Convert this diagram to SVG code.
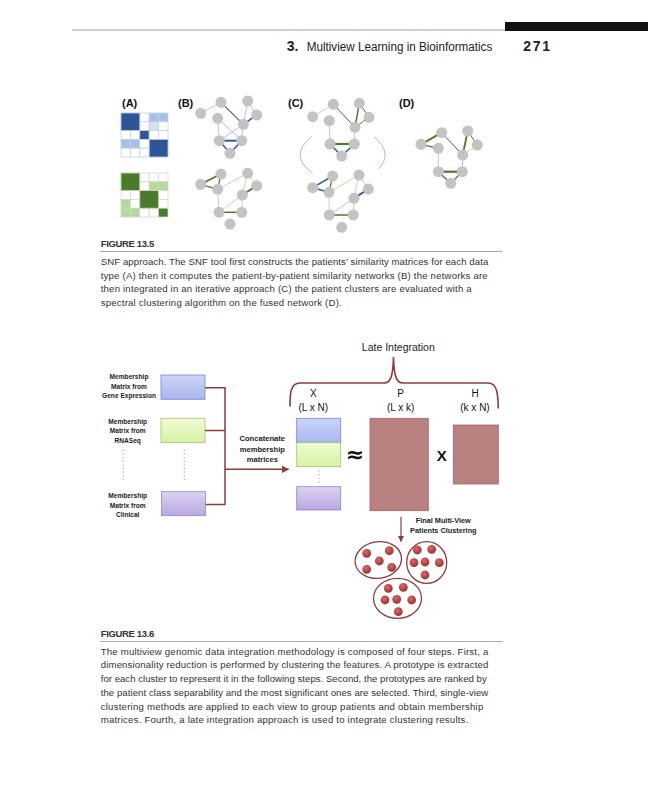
<svg xmlns="http://www.w3.org/2000/svg" width="648" height="800" viewBox="0 0 648 800">
<style>
.hd{font-family:"Liberation Sans",Arial,sans-serif;font-size:14px;fill:#222}
.hm{font-family:"Liberation Sans",Arial,sans-serif;font-size:12px;fill:#222}
.cap{font-family:"Liberation Sans",Arial,sans-serif;font-size:9.6px;fill:#333}
.fig{font-family:"Liberation Sans",Arial,sans-serif;font-size:9.5px;font-weight:bold;fill:#333}
.lab{font-family:"Liberation Sans",Arial,sans-serif;font-size:11px;font-weight:bold;fill:#111}
.sm{font-family:"Liberation Sans",Arial,sans-serif;font-size:6.6px;font-weight:bold;fill:#222;text-anchor:middle}
.md{font-family:"Liberation Sans",Arial,sans-serif;font-size:7.6px;font-weight:bold;fill:#222;text-anchor:middle}
.mx{font-family:"Liberation Sans",Arial,sans-serif;font-size:10px;fill:#111;text-anchor:middle}
.nd{fill:#c3c3c3}
.cb{stroke:#c6d1e2;stroke-width:0.8}
.cg{stroke:#cfdcc4;stroke-width:0.8}
.bt{stroke:#9bb6dc;stroke-width:0.8;fill:none}
.bd{stroke:#2f5e9e;fill:none}
.gt{stroke:#b9cf98;stroke-width:0.8;fill:none}
.gd{stroke:#4f7a28;fill:none}
.rl{stroke:#8e3b3b;fill:none}
.dot{stroke:#999;stroke-width:1.2;stroke-dasharray:1 2.6;fill:none}
.pt{fill:url(#rd)}
.el{fill:none;stroke:#8e3b3b;stroke-width:1.3}
.big{fill:#b98180;stroke:#9e6463;stroke-width:0.8}
</style>
<defs>
<linearGradient id="gb" x1="0" y1="0" x2="0" y2="1"><stop offset="0" stop-color="#ccd4f8"/><stop offset="1" stop-color="#a9b7ee"/></linearGradient>
<linearGradient id="gg" x1="0" y1="0" x2="0" y2="1"><stop offset="0" stop-color="#f0fcd6"/><stop offset="1" stop-color="#d5f0a2"/></linearGradient>
<linearGradient id="gp" x1="0" y1="0" x2="0" y2="1"><stop offset="0" stop-color="#dcd2f3"/><stop offset="1" stop-color="#b8a7e0"/></linearGradient>
<radialGradient id="rd" cx="0.4" cy="0.35" r="0.7"><stop offset="0" stop-color="#d86a6a"/><stop offset="1" stop-color="#982c2c"/></radialGradient>
<marker id="ar" viewBox="0 0 10 10" refX="9" refY="5" markerWidth="5" markerHeight="5" orient="auto"><path d="M0,0 L10,5 L0,10 z" fill="#8e3b3b"/></marker>
</defs>
<rect width="648" height="800" fill="#fff"/>

<g id="header">
<line x1="72" y1="30" x2="505" y2="30" stroke="#888" stroke-width="0.8"/>
<rect x="505" y="22" width="143" height="9" fill="#111"/>
<text class="hd" x="286.7" y="51" font-weight="bold">3.</text>
<text class="hm" x="306.7" y="51" textLength="185.6" lengthAdjust="spacingAndGlyphs">Multiview Learning in Bioinformatics</text>
<text class="hd" x="523.3" y="51" font-weight="bold" textLength="26.7">271</text>
</g>

<g id="fig135-labels">
<text class="lab" x="122" y="107">(A)</text>
<text class="lab" x="178" y="107">(B)</text>
<text class="lab" x="288" y="107">(C)</text>
<text class="lab" x="399" y="107">(D)</text>
</g>

<g id="matrixA-blue">
<g fill="#fff" class="cb">
<rect x="121" y="113" width="9.4" height="8.8"/><rect x="130.4" y="113" width="9.4" height="8.8"/><rect x="139.8" y="113" width="9.4" height="8.8"/><rect x="149.2" y="113" width="9.4" height="8.8" fill="#a6c0e7"/><rect x="158.6" y="113" width="9.4" height="8.8" fill="#a6c0e7"/>
<rect x="121" y="121.8" width="9.4" height="8.8"/><rect x="130.4" y="121.8" width="9.4" height="8.8"/><rect x="139.8" y="121.8" width="9.4" height="8.8"/><rect x="149.2" y="121.8" width="9.4" height="8.8" fill="#d5e2f4"/><rect x="158.6" y="121.8" width="9.4" height="8.8"/>
<rect x="121" y="130.6" width="9.4" height="8.8"/><rect x="130.4" y="130.6" width="9.4" height="8.8"/><rect x="139.8" y="130.6" width="9.4" height="8.8" fill="#2e5597"/><rect x="149.2" y="130.6" width="9.4" height="8.8"/><rect x="158.6" y="130.6" width="9.4" height="8.8"/>
<rect x="121" y="139.4" width="9.4" height="8.8" fill="#a6c0e7"/><rect x="130.4" y="139.4" width="9.4" height="8.8" fill="#a6c0e7"/><rect x="139.8" y="139.4" width="9.4" height="8.8"/><rect x="149.2" y="139.4" width="9.4" height="8.8"/><rect x="158.6" y="139.4" width="9.4" height="8.8"/>
<rect x="121" y="148.2" width="9.4" height="8.8"/><rect x="130.4" y="148.2" width="9.4" height="8.8"/><rect x="139.8" y="148.2" width="9.4" height="8.8"/><rect x="149.2" y="148.2" width="9.4" height="8.8"/><rect x="158.6" y="148.2" width="9.4" height="8.8"/>
<rect x="121" y="113" width="18.8" height="17.6" fill="#2e5597"/>
<rect x="149.2" y="139.4" width="18.8" height="17.6" fill="#2e5597"/>
</g>
</g>

<g id="matrixA-green">
<g fill="#fff" class="cg">
<rect x="121" y="173" width="9.4" height="8.8"/><rect x="130.4" y="173" width="9.4" height="8.8"/><rect x="139.8" y="173" width="9.4" height="8.8"/><rect x="149.2" y="173" width="9.4" height="8.8"/><rect x="158.6" y="173" width="9.4" height="8.8"/>
<rect x="121" y="181.8" width="9.4" height="8.8"/><rect x="130.4" y="181.8" width="9.4" height="8.8"/><rect x="139.8" y="181.8" width="9.4" height="8.8"/><rect x="149.2" y="181.8" width="9.4" height="8.8" fill="#b5d89c"/><rect x="158.6" y="181.8" width="9.4" height="8.8" fill="#b5d89c"/>
<rect x="121" y="190.6" width="9.4" height="8.8"/><rect x="130.4" y="190.6" width="9.4" height="8.8"/><rect x="139.8" y="190.6" width="9.4" height="8.8"/><rect x="149.2" y="190.6" width="9.4" height="8.8"/><rect x="158.6" y="190.6" width="9.4" height="8.8"/>
<rect x="121" y="199.4" width="9.4" height="8.8" fill="#b5d89c"/><rect x="130.4" y="199.4" width="9.4" height="8.8"/><rect x="139.8" y="199.4" width="9.4" height="8.8"/><rect x="149.2" y="199.4" width="9.4" height="8.8"/><rect x="158.6" y="199.4" width="9.4" height="8.8"/>
<rect x="121" y="208.2" width="9.4" height="8.8" fill="#b5d89c"/><rect x="130.4" y="208.2" width="9.4" height="8.8" fill="#b5d89c"/><rect x="139.8" y="208.2" width="9.4" height="8.8"/><rect x="149.2" y="208.2" width="9.4" height="8.8"/><rect x="158.6" y="208.2" width="9.4" height="8.8" fill="#4b7a2d"/>
<rect x="121" y="173" width="18.8" height="17.6" fill="#4b7a2d"/>
<rect x="139.8" y="190.6" width="18.8" height="17.6" fill="#4b7a2d"/>
</g>
</g>

<g id="netB-blue">
<g>
<line class="bt" x1="200.7" y1="113.3" x2="221" y2="102.3"/>
<line class="bd" style="stroke-width:1.1" x1="221" y1="102.3" x2="243.3" y2="124.3"/>
<line class="bt" x1="247.7" y1="101" x2="243.3" y2="124.3"/>
<line class="bt" x1="247.7" y1="101" x2="256.7" y2="115"/>
<line class="bd" style="stroke-width:1.5" x1="256.7" y1="115" x2="243.3" y2="124.3"/>
<line class="bt" x1="217.7" y1="118.3" x2="219.3" y2="140.7"/>
<line class="bt" x1="217.7" y1="118.3" x2="241.7" y2="140.7"/>
<line class="bt" x1="243.3" y1="124.3" x2="219.3" y2="140.7"/>
<line class="bt" x1="243.3" y1="124.3" x2="241.7" y2="140.7"/>
<line class="bd" style="stroke-width:2" x1="219.3" y1="140.7" x2="241.7" y2="140.7"/>
<line class="bd" style="stroke-width:1.5" x1="219.3" y1="140.7" x2="230" y2="153.3"/>
<line class="bd" style="stroke-width:1.5" x1="241.7" y1="140.7" x2="230" y2="153.3"/>
</g>
<g class="nd">
<circle cx="200.7" cy="113.3" r="5.5"/><circle cx="221" cy="102.3" r="5.5"/><circle cx="247.7" cy="101" r="5.5"/><circle cx="256.7" cy="115" r="5.5"/><circle cx="217.7" cy="118.3" r="5.5"/><circle cx="243.3" cy="124.3" r="5.5"/><circle cx="219.3" cy="140.7" r="5.5"/><circle cx="241.7" cy="140.7" r="5.5"/><circle cx="230" cy="153.3" r="5.5"/>
</g>
</g>

<g id="netB-green">
<g>
<line class="gd" style="stroke-width:1.8" x1="200.7" y1="184.3" x2="221" y2="174"/>
<line class="gd" style="stroke-width:1.4" x1="200.7" y1="184.3" x2="217.7" y2="189.3"/>
<line class="gd" style="stroke-width:1.2" x1="221" y1="174" x2="217.7" y2="189.3"/>
<line class="gt" x1="217.7" y1="189.3" x2="247.7" y2="173.3"/>
<line class="gt" x1="247.7" y1="173.3" x2="242.3" y2="195"/>
<line class="gt" x1="247.7" y1="173.3" x2="256.7" y2="185.7"/>
<line class="gd" style="stroke-width:1.8" x1="256.7" y1="185.7" x2="242.3" y2="195"/>
<line class="gt" x1="217.7" y1="189.3" x2="219" y2="212.3"/>
<line class="gt" x1="242.3" y1="195" x2="219" y2="212.3"/>
<line class="gt" x1="242.3" y1="195" x2="241.7" y2="212.3"/>
<line class="gd" style="stroke-width:1.5" x1="219" y1="212.3" x2="241.7" y2="212.3"/>
</g>
<g class="nd">
<circle cx="200.7" cy="184.3" r="5.5"/><circle cx="221" cy="174" r="5.5"/><circle cx="247.7" cy="173.3" r="5.5"/><circle cx="256.7" cy="185.7" r="5.5"/><circle cx="217.7" cy="189.3" r="5.5"/><circle cx="242.3" cy="195" r="5.5"/><circle cx="219" cy="212.3" r="5.5"/><circle cx="241.7" cy="212.3" r="5.5"/><circle cx="230" cy="224" r="5.5"/>
</g>
</g>

<g id="netC">
<path d="M311.7,136.7 Q288,155 312.7,173.3" fill="none" stroke="#93a8c4" stroke-width="0.8"/>
<path d="M374,136.7 Q394,153 378.3,169.3" fill="none" stroke="#93a8c4" stroke-width="0.8"/>
<g>
<line class="gt" x1="312.7" y1="116.7" x2="333.3" y2="104.3"/>
<line class="bd" style="stroke-width:1" x1="333.3" y1="104.3" x2="355" y2="127.3"/>
<line class="gd" style="stroke-width:1.5" x1="359.3" y1="103.3" x2="355" y2="127.3"/>
<line class="gd" style="stroke-width:1" x1="359.3" y1="103.3" x2="369" y2="117.3"/>
<line class="gd" style="stroke-width:1" x1="369" y1="117.3" x2="355" y2="127.3"/>
<line class="bt" x1="329.3" y1="120.7" x2="330" y2="144"/>
<line class="bt" x1="355" y1="127.3" x2="354.3" y2="144"/>
<line class="gd" style="stroke-width:2.2" x1="330" y1="144" x2="354.3" y2="144"/>
<line class="bd" style="stroke-width:1.5" x1="330" y1="144" x2="341.7" y2="156"/>
<line class="bd" style="stroke-width:1.5" x1="354.3" y1="144" x2="341.7" y2="156"/>
</g>
<g class="nd">
<circle cx="312.7" cy="116.7" r="5.5"/><circle cx="333.3" cy="104.3" r="5.5"/><circle cx="359.3" cy="103.3" r="5.5"/><circle cx="369" cy="117.3" r="5.5"/><circle cx="329.3" cy="120.7" r="5.5"/><circle cx="355" cy="127.3" r="5.5"/><circle cx="330" cy="144" r="5.5"/><circle cx="354.3" cy="144" r="5.5"/><circle cx="341.7" cy="156" r="5.5"/>
</g>
<g>
<line class="bd" style="stroke-width:1.5" x1="312.7" y1="187.7" x2="332.7" y2="176"/>
<line class="bd" style="stroke-width:1.5" x1="312.7" y1="187.7" x2="329" y2="192.3"/>
<line class="gd" style="stroke-width:1.2" x1="332.7" y1="176" x2="329" y2="192.3"/>
<line class="gt" x1="329" y1="192.3" x2="359" y2="175"/>
<line class="gt" x1="359" y1="175" x2="354" y2="198.3"/>
<line class="gt" x1="359" y1="175" x2="368.3" y2="189"/>
<line class="bd" style="stroke-width:2" x1="368.3" y1="189" x2="354" y2="198.3"/>
<line class="gt" x1="329" y1="192.3" x2="329.3" y2="215"/>
<line class="bt" x1="354" y1="198.3" x2="329.3" y2="215"/>
<line class="bt" x1="354" y1="198.3" x2="353.3" y2="215"/>
<line class="gd" style="stroke-width:1.5" x1="329.3" y1="215" x2="353.3" y2="215"/>
</g>
<g class="nd">
<circle cx="312.7" cy="187.7" r="5.5"/><circle cx="332.7" cy="176" r="5.5"/><circle cx="359" cy="175" r="5.5"/><circle cx="368.3" cy="189" r="5.5"/><circle cx="329" cy="192.3" r="5.5"/><circle cx="354" cy="198.3" r="5.5"/><circle cx="329.3" cy="215" r="5.5"/><circle cx="353.3" cy="215" r="5.5"/><circle cx="341.7" cy="227.3" r="5.5"/>
</g>
</g>

<g id="netD">
<g>
<line class="gd" style="stroke-width:2" x1="421" y1="144.3" x2="441.7" y2="132.7"/>
<line class="gd" style="stroke-width:1.2" x1="421" y1="144.3" x2="438.3" y2="148.3"/>
<line class="bd" style="stroke-width:1" x1="441.7" y1="132.7" x2="462.7" y2="155"/>
<line class="gd" style="stroke-width:1.8" x1="467.7" y1="131" x2="462.7" y2="155"/>
<line class="gd" style="stroke-width:1" x1="467.7" y1="131" x2="477.3" y2="145"/>
<line class="gt" x1="477.3" y1="145" x2="462.7" y2="155"/>
<line class="bt" x1="438.3" y1="148.3" x2="438.3" y2="171.7"/>
<line class="bt" x1="462.7" y1="155" x2="462.3" y2="171.7"/>
<line class="gd" style="stroke-width:2.2" x1="438.3" y1="171.7" x2="462.3" y2="171.7"/>
<line class="bd" style="stroke-width:1.2" x1="438.3" y1="171.7" x2="450.7" y2="183.3"/>
<line class="bd" style="stroke-width:1.2" x1="462.3" y1="171.7" x2="450.7" y2="183.3"/>
</g>
<g class="nd">
<circle cx="421" cy="144.3" r="5.5"/><circle cx="441.7" cy="132.7" r="5.5"/><circle cx="467.7" cy="131" r="5.5"/><circle cx="477.3" cy="145" r="5.5"/><circle cx="438.3" cy="148.3" r="5.5"/><circle cx="462.7" cy="155" r="5.5"/><circle cx="438.3" cy="171.7" r="5.5"/><circle cx="462.3" cy="171.7" r="5.5"/><circle cx="450.7" cy="183.3" r="5.5"/>
</g>
</g>

<g id="caption135">
<text class="fig" x="100.7" y="246.5" textLength="53.6">FIGURE 13.5</text>
<line x1="100" y1="251.5" x2="502.7" y2="251.5" stroke="#aaa" stroke-width="1"/>
<text class="cap" x="100.7" y="264.5" textLength="387.6">SNF approach. The SNF tool first constructs the patients’ similarity matrices for each data</text>
<text class="cap" x="100.7" y="278.5" textLength="387">type (A) then it computes the patient-by-patient similarity networks (B) the networks are</text>
<text class="cap" x="100.7" y="292" textLength="371">then integrated in an iterative approach (C) the patient clusters are evaluated with a</text>
<text class="cap" x="100.7" y="306" textLength="241">spectral clustering algorithm on the fused network (D).</text>
</g>

<g id="label-gene">
<text class="sm" x="129" y="379">Membership</text>
<text class="sm" x="129" y="388.5">Matrix from</text>
<text class="sm" x="129" y="398.3">Gene Expression</text>
</g>
<g id="label-rna">
<text class="sm" x="127.7" y="424">Membership</text>
<text class="sm" x="127.7" y="433.3">Matrix from</text>
<text class="sm" x="127.7" y="443">RNASeq</text>
</g>
<g id="label-clin">
<text class="sm" x="127.7" y="498.3">Membership</text>
<text class="sm" x="127.7" y="507.6">Matrix from</text>
<text class="sm" x="127.7" y="517">Clinical</text>
</g>
<line class="dot" x1="123.3" y1="450" x2="123.3" y2="482"/>
<line class="dot" x1="184.3" y1="450" x2="184.3" y2="482"/>

<g id="box-gene"><rect x="161" y="375" width="44" height="24.3" fill="url(#gb)" stroke="#7289cc" stroke-width="0.8"/></g>
<g id="box-rna"><rect x="161" y="418.3" width="44" height="24.4" fill="url(#gg)" stroke="#a3c46a" stroke-width="0.8"/></g>
<g id="box-clin"><rect x="161.5" y="491.7" width="44" height="24" fill="url(#gp)" stroke="#9582c8" stroke-width="0.8"/></g>

<g id="connectors">
<path class="rl" style="stroke-width:1.5" d="M205,387.7 H225 M205,430.5 H225 M205.7,504.5 H225 M225,387 V505.2"/>
<path class="rl" style="stroke-width:1.5" d="M225,469.3 H288.5" marker-end="url(#ar)"/>
<path class="rl" style="stroke-width:1.2" d="M401,516.7 V541.5" marker-end="url(#ar)"/>
<path class="rl" style="stroke-width:1.6" d="M290,406.5 C290,393 290.5,383 300,383 H384 C390,383 393,378 393.5,357 C394,378 397,383 403,383 H488 C497,383 498,393 498.3,408.5"/>
</g>

<g id="concat-label">
<text class="md" x="262.3" y="441">Concatenate</text>
<text class="md" x="262.3" y="451.7">membership</text>
<text class="md" x="262.3" y="462">matrices</text>
</g>

<g id="late-label">
<text x="398.3" y="351" font-family="'Liberation Sans',Arial,sans-serif" font-size="10.5" fill="#222" text-anchor="middle">Late Integration</text>
</g>

<g id="X-col">
<text class="mx" x="313.3" y="397">X</text>
<text class="mx" x="313.3" y="411.3">(L x N)</text>
<rect x="296.7" y="418.3" width="44" height="24.4" fill="url(#gb)" stroke="#7289cc" stroke-width="0.8"/>
<rect x="296.7" y="442.7" width="44" height="24" fill="url(#gg)" stroke="#a3c46a" stroke-width="0.8"/>
<line class="dot" x1="319" y1="470.5" x2="319" y2="483"/>
<rect x="296.7" y="486.7" width="44" height="23.3" fill="url(#gp)" stroke="#9582c8" stroke-width="0.8"/>
</g>

<text x="355" y="462" font-family="'DejaVu Sans',sans-serif" font-size="22" font-weight="bold" fill="#111" text-anchor="middle">≈</text>

<g id="P-col">
<text class="mx" x="400.7" y="397">P</text>
<text class="mx" x="400.7" y="411.3">(L x k)</text>
<rect class="big" x="370" y="418.3" width="58.3" height="92.4"/>
</g>

<text x="441.7" y="460.5" font-family="'Liberation Sans',Arial,sans-serif" font-size="15" font-weight="bold" fill="#111" text-anchor="middle">X</text>

<g id="H-col">
<text class="mx" x="475" y="397">H</text>
<text class="mx" x="475" y="411.3">(k x N)</text>
<rect class="big" x="453.3" y="425" width="45" height="59"/>
</g>

<g id="final-label">
<text class="md" x="443.3" y="522.7" style="font-size:7.3px">Final Multi-View</text>
<text class="md" x="443.3" y="533.4" style="font-size:7.3px">Patients Clustering</text>
</g>

<g id="cluster1">
<ellipse class="el" cx="378.3" cy="560" rx="23.3" ry="18.3" transform="rotate(-8 378.3 560)"/>
<circle class="pt" cx="366.7" cy="553.3" r="4.4"/><circle class="pt" cx="389.3" cy="550.7" r="4.4"/><circle class="pt" cx="379.3" cy="561" r="4.4"/><circle class="pt" cx="366.7" cy="569.3" r="4.4"/><circle class="pt" cx="391.7" cy="567.3" r="4.4"/>
</g>
<g id="cluster2">
<ellipse class="el" cx="426.7" cy="562.5" rx="20" ry="20.8"/>
<circle class="pt" cx="417.3" cy="550" r="4.4"/><circle class="pt" cx="431.7" cy="549.3" r="4.4"/><circle class="pt" cx="414" cy="562.7" r="4.4"/><circle class="pt" cx="425" cy="562" r="4.4"/><circle class="pt" cx="439.3" cy="562.7" r="4.4"/><circle class="pt" cx="425" cy="575" r="4.4"/>
</g>
<g id="cluster3">
<ellipse class="el" cx="397.5" cy="598.3" rx="24" ry="20"/>
<circle class="pt" cx="388.3" cy="588.3" r="4.4"/><circle class="pt" cx="403.3" cy="587.3" r="4.4"/><circle class="pt" cx="385" cy="600" r="4.4"/><circle class="pt" cx="396.7" cy="599.3" r="4.4"/><circle class="pt" cx="411.7" cy="600" r="4.4"/><circle class="pt" cx="398.3" cy="611.7" r="4.4"/>
</g>

<g id="caption136">
<text class="fig" x="100.7" y="637" textLength="53.6">FIGURE 13.6</text>
<line x1="100" y1="641.5" x2="502.7" y2="641.5" stroke="#aaa" stroke-width="1"/>
<text class="cap" x="100.7" y="654.5" textLength="387.6">The multiview genomic data integration methodology is composed of four steps. First, a</text>
<text class="cap" x="100.7" y="668" textLength="387.6">dimensionality reduction is performed by clustering the features. A prototype is extracted</text>
<text class="cap" x="100.7" y="681.5" textLength="386">for each cluster to represent it in the following steps. Second, the prototypes are ranked by</text>
<text class="cap" x="100.7" y="695.5" textLength="387.6">the patient class separability and the most significant ones are selected. Third, single-view</text>
<text class="cap" x="100.7" y="709.5" textLength="382.6">clustering methods are applied to each view to group patients and obtain membership</text>
<text class="cap" x="100.7" y="723" textLength="367.6">matrices. Fourth, a late integration approach is used to integrate clustering results.</text>
</g>
</svg>
